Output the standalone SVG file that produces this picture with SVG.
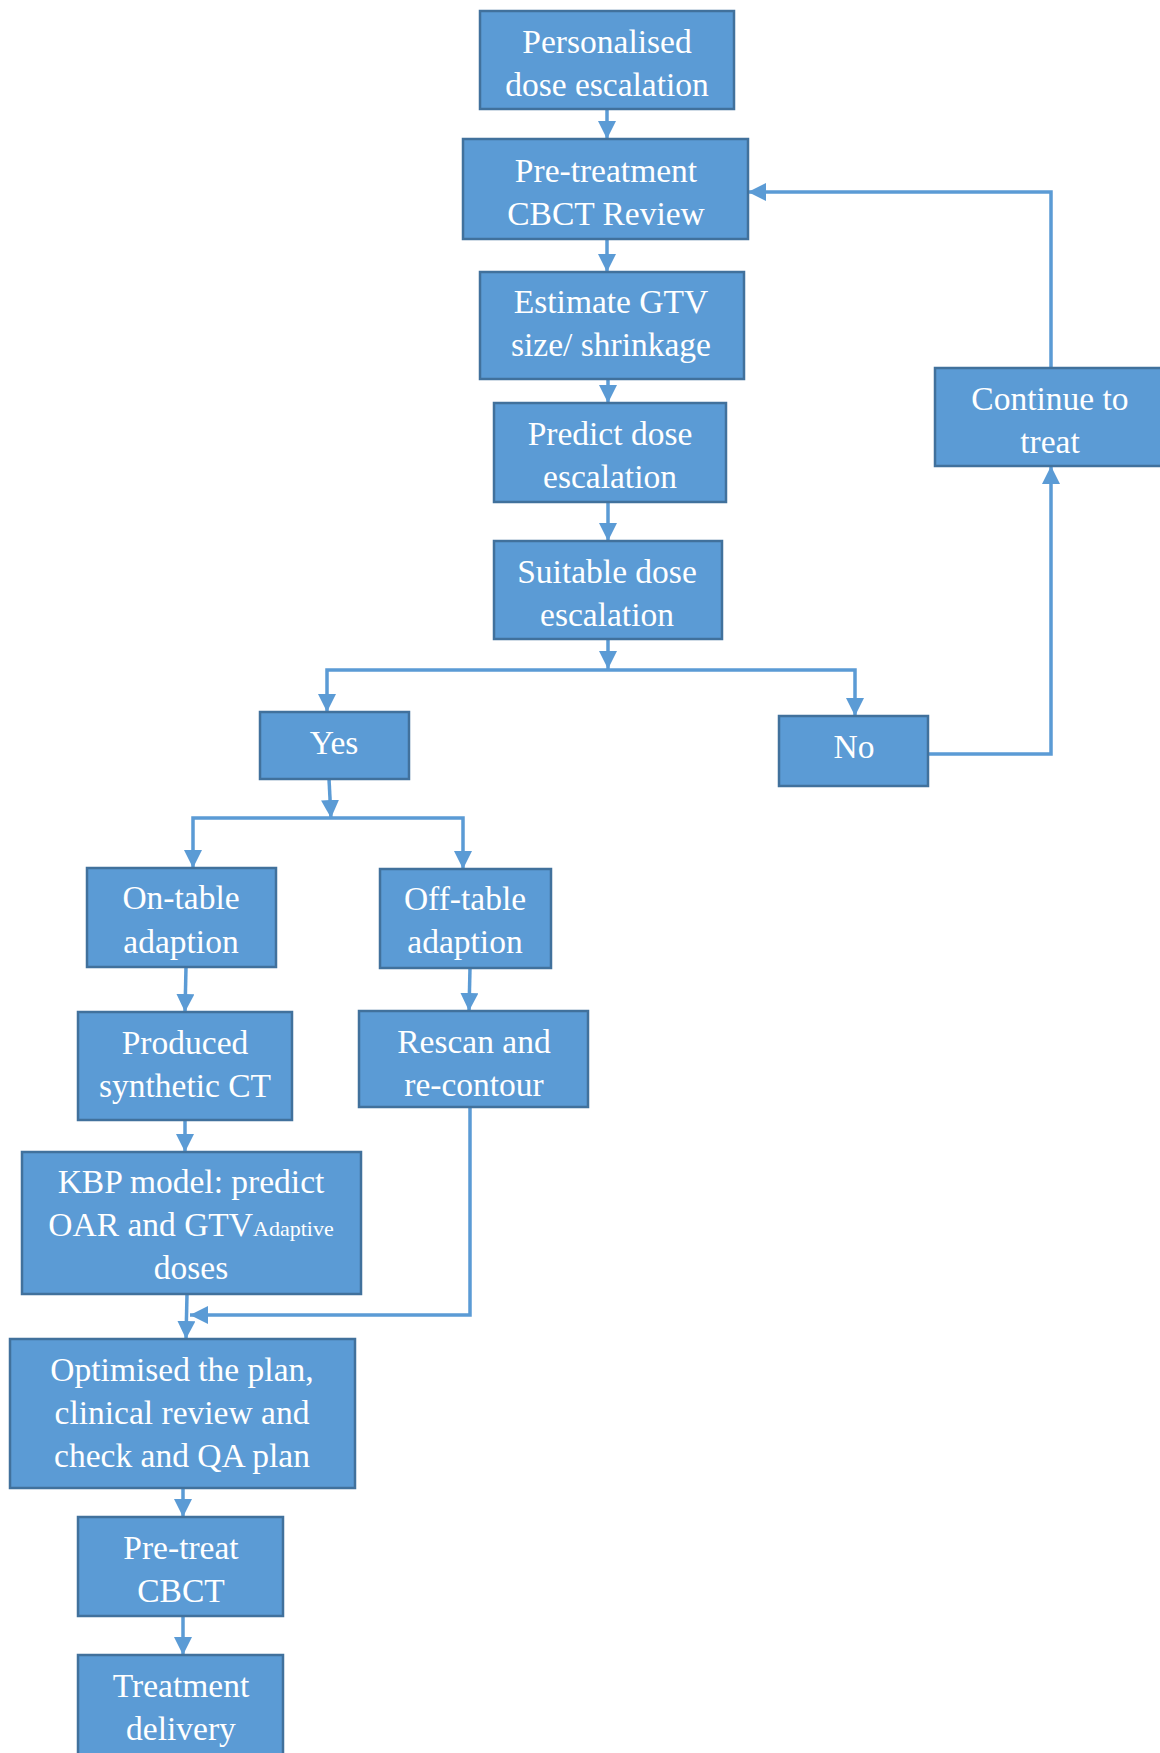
<svg xmlns="http://www.w3.org/2000/svg" width="1160" height="1753" viewBox="0 0 1160 1753">
<style>
.box{fill:#5B9BD5;stroke:#41719C;stroke-width:2.5}
.t{font-family:"Liberation Serif","Times New Roman",serif;font-size:33.5px;fill:#FFFFFF;text-anchor:middle}
.sm{font-size:22px}
.c{fill:none;stroke:#5B9BD5;stroke-width:3.5}
</style>
<defs>
<marker id="ah" viewBox="0 0 10 10" refX="10" refY="5" markerWidth="18" markerHeight="18" markerUnits="userSpaceOnUse" orient="auto">
<path d="M0,0 L10,5 L0,10 z" fill="#5B9BD5"/>
</marker>
</defs>
<rect width="1160" height="1753" fill="#FFFFFF"/>
<g id="connectors">
<path class="c" d="M607,109 V139" marker-end="url(#ah)"/>
<path class="c" d="M607,239 V272" marker-end="url(#ah)"/>
<path class="c" d="M608,379 V403" marker-end="url(#ah)"/>
<path class="c" d="M608,502 V541" marker-end="url(#ah)"/>
<path class="c" d="M608,639 V669" marker-end="url(#ah)"/>
<path class="c" d="M608,670 H327 V712" marker-end="url(#ah)"/>
<path class="c" d="M608,670 H855 V716" marker-end="url(#ah)"/>
<path class="c" d="M928,754 H1051 V466" marker-end="url(#ah)"/>
<path class="c" d="M1051,368 V192 H748" marker-end="url(#ah)"/>
<path class="c" d="M329,779 L331,818" marker-end="url(#ah)"/>
<path class="c" d="M331,818 H193 V868" marker-end="url(#ah)"/>
<path class="c" d="M331,818 H463 V869" marker-end="url(#ah)"/>
<path class="c" d="M186,967 L185,1012" marker-end="url(#ah)"/>
<path class="c" d="M470,968 L469,1011" marker-end="url(#ah)"/>
<path class="c" d="M185,1120 V1152" marker-end="url(#ah)"/>
<path class="c" d="M470,1107 V1315 H190" marker-end="url(#ah)"/>
<path class="c" d="M187,1294 L186,1339" marker-end="url(#ah)"/>
<path class="c" d="M183,1488 V1517" marker-end="url(#ah)"/>
<path class="c" d="M183,1616 V1655" marker-end="url(#ah)"/>
</g>
<g id="personalised">
<rect class="box" x="480" y="11" width="254" height="98"/>
<text class="t" x="607" y="53">Personalised</text>
<text class="t" x="607" y="96">dose escalation</text>
</g>
<g id="pretreatment-cbct-review">
<rect class="box" x="463" y="139" width="285" height="100"/>
<text class="t" x="606" y="182">Pre-treatment</text>
<text class="t" x="606" y="225">CBCT Review</text>
</g>
<g id="estimate-gtv">
<rect class="box" x="480" y="272" width="264" height="107"/>
<text class="t" x="611" y="313">Estimate GTV</text>
<text class="t" x="611" y="356">size/ shrinkage</text>
</g>
<g id="predict-dose">
<rect class="box" x="494" y="403" width="232" height="99"/>
<text class="t" x="610" y="445">Predict dose</text>
<text class="t" x="610" y="488">escalation</text>
</g>
<g id="suitable-dose">
<rect class="box" x="494" y="541" width="228" height="98"/>
<text class="t" x="607" y="583">Suitable dose</text>
<text class="t" x="607" y="626">escalation</text>
</g>
<g id="yes">
<rect class="box" x="260" y="712" width="149" height="67"/>
<text class="t" x="334" y="754">Yes</text>
</g>
<g id="no">
<rect class="box" x="779" y="716" width="149" height="70"/>
<text class="t" x="854" y="758">No</text>
</g>
<g id="continue-to-treat">
<rect class="box" x="935" y="368" width="232" height="98"/>
<text class="t" x="1050" y="410">Continue to</text>
<text class="t" x="1050" y="453">treat</text>
</g>
<g id="on-table">
<rect class="box" x="87" y="868" width="189" height="99"/>
<text class="t" x="181" y="909">On-table</text>
<text class="t" x="181" y="953">adaption</text>
</g>
<g id="off-table">
<rect class="box" x="380" y="869" width="171" height="99"/>
<text class="t" x="465" y="910">Off-table</text>
<text class="t" x="465" y="953">adaption</text>
</g>
<g id="produced-synthetic-ct">
<rect class="box" x="78" y="1012" width="214" height="108"/>
<text class="t" x="185" y="1054">Produced</text>
<text class="t" x="185" y="1097">synthetic CT</text>
</g>
<g id="rescan">
<rect class="box" x="359" y="1011" width="229" height="96"/>
<text class="t" x="474" y="1053">Rescan and</text>
<text class="t" x="474" y="1096">re-contour</text>
</g>
<g id="kbp-model">
<rect class="box" x="22" y="1152" width="339" height="142"/>
<text class="t" x="191" y="1193">KBP model: predict</text>
<text class="t" x="191" y="1236">OAR and GTV<tspan class="sm">Adaptive</tspan></text>
<text class="t" x="191" y="1279">doses</text>
</g>
<g id="optimised-plan">
<rect class="box" x="10" y="1339" width="345" height="149"/>
<text class="t" x="182" y="1381">Optimised the plan,</text>
<text class="t" x="182" y="1424">clinical review and</text>
<text class="t" x="182" y="1467">check and QA plan</text>
</g>
<g id="pre-treat-cbct">
<rect class="box" x="78" y="1517" width="205" height="99"/>
<text class="t" x="181" y="1559">Pre-treat</text>
<text class="t" x="181" y="1602">CBCT</text>
</g>
<g id="treatment-delivery">
<rect class="box" x="78" y="1655" width="205" height="110"/>
<text class="t" x="181" y="1697">Treatment</text>
<text class="t" x="181" y="1740">delivery</text>
</g>
</svg>
